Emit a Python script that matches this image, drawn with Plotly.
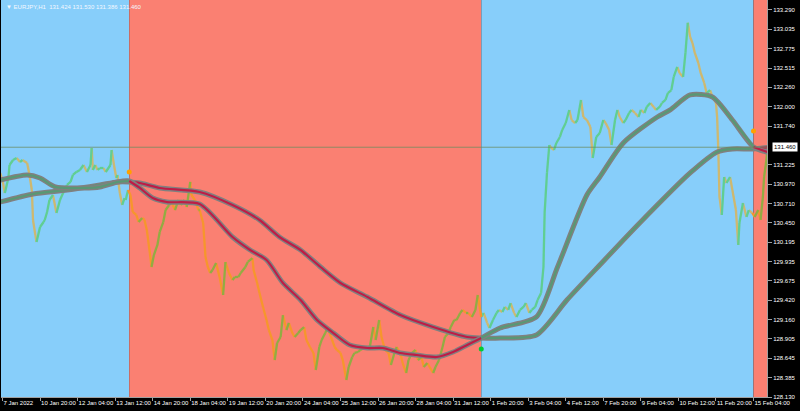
import plotly.graph_objects as go

# ---------------- data ----------------
# hourly bar index (0 = "7 Jan 2022" label bar), close prices
seg1_bars = [-2, 0, 2, 5, 6, 9, 12, 15, 17, 21, 23, 25, 26, 28, 29, 32, 35, 36, 38, 40,
             43, 46, 49, 52, 55, 58, 60, 63, 66, 69, 72, 75, 76, 77, 79, 81, 83, 86, 88, 92,
             93, 95, 97, 98, 100, 102, 104, 105, 107]
seg1_close = [131.117, 131.023, 130.850, 131.050, 131.223, 131.290, 131.317, 131.263, 131.290, 131.250,
              131.090, 130.890, 130.490, 130.290, 130.197, 130.397, 130.463, 130.490, 130.597, 130.757,
              130.823, 130.583, 130.757, 130.863, 130.957, 130.997, 131.090, 131.130, 131.157, 131.223,
              131.130, 131.223, 131.450, 131.157, 131.223, 131.157, 131.183, 131.183, 131.130, 131.223,
              131.423, 131.223, 131.050, 131.090, 130.850, 130.690, 130.783, 130.757, 130.890]

seg2_bars = [109, 111, 114, 116, 119, 121, 123, 126, 127, 129, 132, 134, 137, 139, 142, 144, 147, 150, 152, 155,
             157, 160, 161, 164, 167, 168, 171, 173, 175, 177, 179, 182, 185, 188, 190, 193, 196, 198, 201, 203,
             207, 209, 213, 214, 217, 219, 222, 225, 227, 230, 232, 234, 237, 239, 242, 244, 247, 249, 252, 254,
             257, 259, 262, 265, 267, 270, 272, 275, 277, 280, 283, 285, 288, 290, 293, 295, 298, 300, 303, 305,
             308, 311, 313, 316, 318, 321, 323, 326, 329, 331, 334, 336, 339, 341, 344, 346, 349, 352, 354, 357,
             359, 362, 364, 367, 369, 372, 375, 377, 380, 382, 385, 387, 390, 392, 395, 397, 400, 403, 405, 408]
seg2_close = [130.823, 130.597, 130.557, 130.463, 130.517, 130.490, 130.357, 129.997, 129.863, 130.023,
              130.157, 130.330, 130.463, 130.623, 130.690, 130.730, 130.623, 130.757, 130.690, 130.757,
              130.663, 130.997, 130.823, 130.757, 130.623, 130.623, 130.450, 129.997, 129.863, 129.783,
              129.823, 129.917, 129.730, 129.490, 129.930, 129.783, 129.690, 129.730, 129.730, 129.783,
              129.863, 129.930, 129.983, 129.823, 129.650, 129.517, 129.330, 129.157, 129.023, 128.890,
              128.623, 128.850, 128.930, 129.223, 129.023, 129.117, 128.983, 128.930, 128.983, 129.023,
              129.063, 128.890, 128.797, 128.717, 128.490, 128.797, 128.890, 128.983, 129.050, 128.930,
              128.797, 128.757, 128.717, 128.623, 128.357, 128.530, 128.663, 128.717, 128.730, 128.757,
              128.783, 128.797, 128.797, 129.063, 128.890, 129.157, 128.930, 128.757, 128.717, 128.557,
              128.717, 128.797, 128.717, 128.583, 128.450, 128.623, 128.717, 128.757, 128.623, 128.663,
              128.530, 128.583, 128.530, 128.450, 128.530, 128.623, 128.797, 128.930, 128.983, 129.063,
              129.157, 129.157, 129.250, 129.290, 129.250, 129.250, 129.197, 129.290, 129.490, 129.197]

seg3_bars = [410, 413, 415, 418, 421, 423, 426, 428, 431, 433, 436, 438, 441, 444, 446, 449, 451, 454, 456, 459,
             461, 462, 464, 466, 467, 470, 472, 475, 477, 480, 483, 485, 488, 490, 493, 495, 498, 501, 503, 506,
             509, 512, 514, 517, 519, 522, 524, 526, 529, 531, 534, 536, 539, 542, 544, 547, 549, 552, 555, 557,
             560, 562, 565, 567, 570, 572, 575, 577, 580, 582, 584, 586, 588, 590, 593, 595, 598, 600, 603, 605,
             608, 609, 610, 611, 613, 615, 617, 620, 622, 625, 627, 628, 631, 634, 636, 639]
seg3_close = [129.250, 129.117, 129.050, 129.157, 129.250, 129.290, 129.263, 129.330, 129.290, 129.383,
              129.250, 129.197, 129.290, 129.330, 129.383, 129.250, 129.290, 129.330, 129.423, 129.517,
              129.863, 130.583, 131.117, 131.490, 131.463, 131.423, 131.517, 131.597, 131.690, 131.783,
              131.957, 131.823, 131.783, 131.823, 132.090, 131.863, 131.823, 131.730, 131.317, 131.597,
              131.650, 131.823, 131.783, 131.690, 131.490, 131.823, 131.957, 131.863, 131.783, 131.823,
              131.917, 131.957, 131.917, 131.863, 131.957, 131.917, 131.997, 132.050, 131.997, 131.957,
              131.997, 132.050, 132.090, 132.183, 132.223, 132.397, 132.530, 132.450, 132.397, 132.717,
              133.120, 132.930, 132.850, 132.717, 132.583, 132.450, 132.317, 132.183, 132.223, 132.130,
              132.050, 131.863, 131.423, 130.797, 130.557, 131.063, 130.983, 131.063, 130.890, 130.623,
              130.157, 130.450, 130.717, 130.530, 130.623, 130.583]

seg4_bars = [641, 644, 646, 648, 649, 651, 652]
seg4_close = [130.530, 130.623, 130.490, 130.797, 131.063, 131.290, 131.460]

# moving averages
slow_bars = [-2, 26, 55, 83, 98, 108, 117, 134, 168, 196, 219, 236, 254, 271, 288,
             311, 339, 367, 396, 408, 424, 455, 481, 509, 543, 586, 609, 622, 640, 654]
slow_vals = [130.730, 130.837, 130.890, 130.957, 130.997, 130.997, 130.983, 130.917, 130.863, 130.690,
             130.490, 130.263, 130.090, 129.863, 129.650, 129.463, 129.223, 129.063, 128.930, 128.917,
             128.917, 128.957, 129.423, 129.890, 130.450, 131.117, 131.397, 131.437, 131.437, 131.463]
fast_bars = [-2, 21, 32, 45, 69, 83, 98, 108, 117, 128, 140, 168, 196, 211, 225, 239, 254, 268, 282, 296,
             311, 324, 339, 353, 370, 384, 396, 408, 424, 455, 473, 498, 509, 529, 558, 569, 586, 605, 622, 640, 654]
fast_vals = [131.023, 131.090, 131.050, 130.930, 130.917, 130.930, 130.997, 131.010, 130.917, 130.783,
             130.730, 130.703, 130.263, 130.090, 129.957, 129.650, 129.423, 129.157, 128.983, 128.823,
             128.783, 128.783, 128.717, 128.690, 128.663, 128.730, 128.823, 128.917, 129.050, 129.197,
             129.863, 130.823, 131.063, 131.517, 131.863, 131.957, 132.157, 132.130, 131.823, 131.463, 131.383]

# trend zones
zone_start = [-10, 108, 408, 640]
zone_end = [108, 408, 640, 700]
zone_kind = ["up", "down", "up", "down"]

# signal dots
signal_bars = [108, 408, 640]
signal_price = [131.130, 128.770, 131.677]
signal_kind = ["sell", "buy", "sell"]

# axis labels
x_tick_bars = [0, 32, 64, 96, 128, 160, 192, 224, 256, 288, 320, 352, 384, 416, 448, 480, 512, 544, 576, 608, 640]
x_tick_text = ["7 Jan 2022", "10 Jan 20:00", "12 Jan 04:00", "13 Jan 12:00", "14 Jan 20:00", "18 Jan 04:00",
               "19 Jan 12:00", "20 Jan 20:00", "24 Jan 04:00", "25 Jan 12:00", "26 Jan 20:00", "28 Jan 04:00",
               "31 Jan 12:00", "1 Feb 20:00", "3 Feb 04:00", "4 Feb 12:00", "7 Feb 20:00", "9 Feb 04:00",
               "10 Feb 12:00", "11 Feb 20:00", "15 Feb 04:00"]
y_tick_vals = [133.290, 133.032, 132.774, 132.516, 132.258, 132.000, 131.742, 131.226, 130.968, 130.710,
               130.452, 130.194, 129.936, 129.678, 129.420, 129.162, 128.904, 128.646, 128.388, 128.130]
y_tick_text = ["133.290", "133.035", "132.775", "132.515", "132.260", "132.000", "131.740", "131.225",
               "130.970", "130.710", "130.450", "130.195", "129.935", "129.675", "129.420", "129.160",
               "128.905", "128.645", "128.385", "128.130"]

symbol_label = "EURJPY,H1"
ohlc = ["131.424", "131.530", "131.386", "131.460"]
bid_price = 131.460

# ---------------- figure ----------------
ZONE_BG = {"up": "#87CEFA", "down": "#FA8072"}
PRICE_COL = {("up", True): "rgb(96,206,146)", ("up", False): "rgb(206,184,112)",
             ("down", True): "rgb(146,172,66)", ("down", False): "rgb(246,150,44)"}
MA_INNER = {"up": "rgb(88,152,116)", "down": "rgb(190,28,70)"}
SIG_COL = {"buy": "#00CC33", "sell": "#FFA000"}

fig = go.Figure()

shapes = []
for s, e, k in zip(zone_start, zone_end, zone_kind):
    shapes.append(dict(type="rect", xref="x", yref="paper", x0=s, x1=e, y0=0, y1=1,
                       fillcolor=ZONE_BG[k], line=dict(width=0), layer="below"))


def zone_of(b):
    for s, e, k in zip(zone_start, zone_end, zone_kind):
        if s <= b < e:
            return k
    return zone_kind[-1]


bars = seg1_bars + seg2_bars + seg3_bars + seg4_bars
close = seg1_close + seg2_close + seg3_close + seg4_close

groups = {}
for i in range(len(bars) - 1):
    mid = (bars[i] + bars[i + 1]) / 2
    key = (zone_of(mid), close[i + 1] >= close[i])
    gx, gy = groups.setdefault(key, ([], []))
    gx += [bars[i], bars[i + 1], None]
    gy += [close[i], close[i + 1], None]

for key, (gx, gy) in groups.items():
    fig.add_trace(go.Scatter(x=gx, y=gy, mode="lines", line=dict(color=PRICE_COL[key], width=2.3),
                             hoverinfo="skip", showlegend=False))

for mb, mv in [(slow_bars, slow_vals), (fast_bars, fast_vals)]:
    fig.add_trace(go.Scatter(x=mb, y=mv, mode="lines",
                             line=dict(color="rgb(128,128,128)", width=5, shape="spline", smoothing=0.7),
                             hoverinfo="skip", showlegend=False))
    for s, e, k in zip(zone_start, zone_end, zone_kind):
        zx = [b for b in mb if s <= b <= e]
        zy = [v for b, v in zip(mb, mv) if s <= b <= e]
        if len(zx) > 1:
            fig.add_trace(go.Scatter(x=zx, y=zy, mode="lines",
                                     line=dict(color=MA_INNER[k], width=2.2, shape="spline", smoothing=0.7),
                                     hoverinfo="skip", showlegend=False))

fig.add_trace(go.Scatter(x=signal_bars, y=signal_price, mode="markers",
                         marker=dict(color=[SIG_COL[k] for k in signal_kind], size=5),
                         hoverinfo="skip", showlegend=False))

shapes.append(dict(type="line", xref="paper", yref="y", x0=0, x1=1, y0=bid_price, y1=bid_price,
                   line=dict(color="rgba(105,140,95,0.75)", width=1), layer="above"))

FONT = "Liberation Sans, Arial, sans-serif"
annotations = [
    dict(xref="paper", yref="paper", x=0, y=1, xanchor="left", yanchor="top", xshift=3, yshift=-2,
         text="▼ " + symbol_label + "  " + " ".join(ohlc), showarrow=False,
         font=dict(family=FONT, size=6, color="#f4f8ff")),
    dict(xref="paper", yref="y", x=1, y=bid_price, xanchor="left", yanchor="middle", xshift=5,
         text=ohlc[-1], showarrow=False, bgcolor="#ffffff", borderpad=1,
         font=dict(family=FONT, size=6, color="#000000")),
]

fig.update_layout(
    width=800, height=411,
    margin=dict(l=1, r=33, t=0, b=14, pad=0, autoexpand=False),
    paper_bgcolor="#000000", plot_bgcolor="#000000",
    shapes=shapes, annotations=annotations,
    showlegend=False,
    xaxis=dict(range=[-1.28, 651.5], tickmode="array", tickvals=x_tick_bars, ticktext=x_tick_text,
               showgrid=False, zeroline=False, showline=True, linecolor="#a0a0a0", linewidth=1,
               ticks="outside", ticklen=3, tickcolor="#a0a0a0", ticklabelposition="outside right",
               tickangle=0, automargin=False,
               tickfont=dict(family=FONT, size=6, color="#ffffff")),
    yaxis=dict(range=[128.13, 133.423], side="right", tickmode="array", tickvals=y_tick_vals,
               ticktext=y_tick_text, showgrid=False, zeroline=False, showline=True, linecolor="#a0a0a0",
               linewidth=1, ticks="outside", ticklen=4, tickcolor="#a0a0a0", automargin=False,
               tickfont=dict(family=FONT, size=6, color="#ffffff")),
)

fig.write_html("out.html", config={"displayModeBar": False},
               post_script="document.body.style.margin='0';document.body.style.overflow='hidden';"
                           "document.body.style.background='#000';")
